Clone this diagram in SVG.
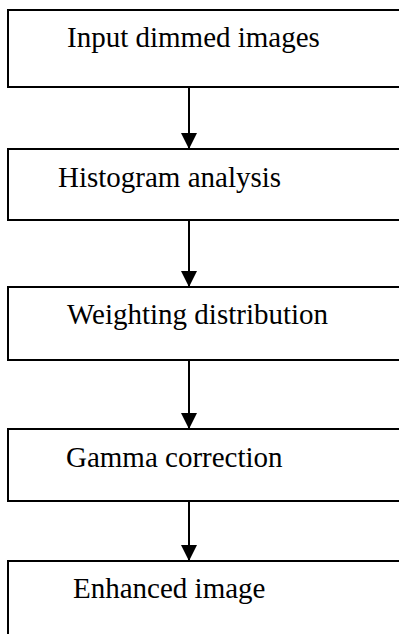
<svg xmlns="http://www.w3.org/2000/svg" width="399" height="634" viewBox="0 0 399 634">
<defs>
<style>
.box{fill:#fff;stroke:#000;stroke-width:2}
.lbl{font-family:"Liberation Serif","Times New Roman",serif;font-size:29px;fill:#000}
.conn{stroke:#000;stroke-width:2;fill:none}
</style>
<marker id="ah" markerUnits="userSpaceOnUse" markerWidth="16" markerHeight="16" viewBox="0 0 16 16" refX="16" refY="8" orient="auto">
<path d="M0,0 L16,8 L0,16 Z" fill="#000"/>
</marker>
</defs>
<rect width="399" height="634" fill="#fff"/>
<g id="n1"><rect class="box" x="8" y="10" width="400" height="77"/><text class="lbl" x="67" y="47">Input dimmed images</text></g>
<g id="n2"><rect class="box" x="8" y="149" width="400" height="71"/><text class="lbl" x="58" y="187">Histogram analysis</text></g>
<g id="n3"><rect class="box" x="8" y="287" width="400" height="73"/><text class="lbl" x="67" y="324">Weighting distribution</text></g>
<g id="n4"><rect class="box" x="8" y="429" width="400" height="72"/><text class="lbl" x="66" y="467">Gamma correction</text></g>
<g id="n5"><rect class="box" x="8" y="561" width="400" height="90"/><text class="lbl" x="73" y="598">Enhanced image</text></g>
<g id="connectors">
<line class="conn" x1="189" y1="87" x2="189" y2="149" marker-end="url(#ah)"/>
<line class="conn" x1="189" y1="220" x2="189" y2="287" marker-end="url(#ah)"/>
<line class="conn" x1="189" y1="360" x2="189" y2="429" marker-end="url(#ah)"/>
<line class="conn" x1="189" y1="501" x2="189" y2="561" marker-end="url(#ah)"/>
</g>
</svg>
